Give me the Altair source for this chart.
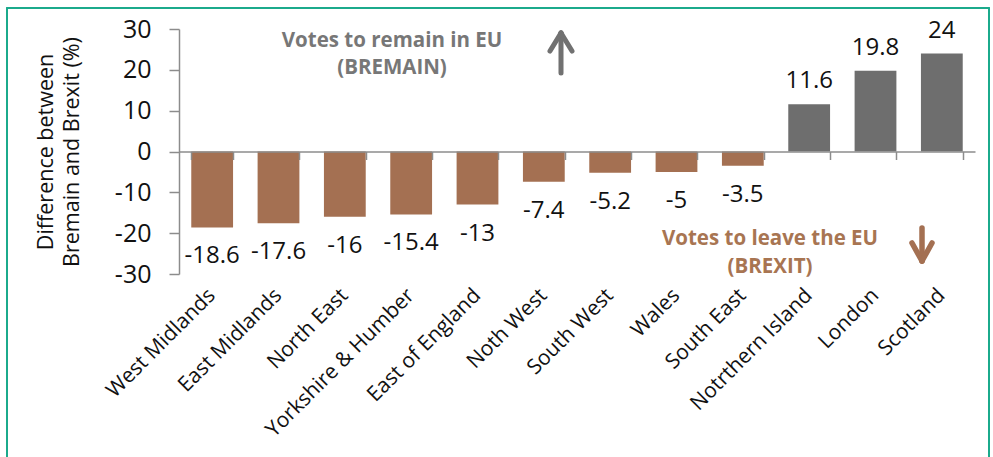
import altair as alt
import pandas as pd

regions = ["West Midlands", "East Midlands", "North East", "Yorkshire  & Humber",
           "East of England", "Noth West", "South West", "Wales", "South East",
           "Notrthern Island", "London", "Scotland"]
values = [-18.6, -17.6, -16, -15.4, -13, -7.4, -5.2, -5, -3.5, 11.6, 19.8, 24]
y_ticks = [-30, -20, -10, 0, 10, 20, 30]

BROWN = "#A47052"
GRAY = "#6E6E6E"
AXIS_GRAY = "#8C8C8C"
GREEN = "#1BAA8C"
FONT = "Open Sans"

df = pd.DataFrame({"region": regions, "value": values})
df["label"] = [f"{v:g}" for v in values]
df["side"] = ["remain" if v > 0 else "leave" for v in values]

W, H = 796, 245
one = pd.DataFrame({"a": [0]})

xscale = alt.Scale(paddingInner=0.37, paddingOuter=0.185)
yenc = alt.Y("value:Q",
             scale=alt.Scale(domain=[-30, 30], nice=False, zero=False),
             axis=alt.Axis(values=y_ticks, grid=False, domainColor=AXIS_GRAY, domainWidth=1.5,
                           tickColor=AXIS_GRAY, tickWidth=1.5, tickSize=10, labelPadding=18,
                           labelFontSize=25, labelColor="#111111", labelFont=FONT,
                           labelExpr="datum.value + ''",
                           title=["Difference between", "Bremain and Brexit (%)"],
                           titleFont=FONT, titleFontSize=21.5, titleFontWeight="normal",
                           titleColor="#111111", titleLineHeight=26, titlePadding=31))

bars = alt.Chart(df).mark_bar().encode(
    x=alt.X("region:N", sort=None, scale=xscale,
            axis=alt.Axis(orient="bottom", domain=False, ticks=False, labelAngle=-45,
                          labelAlign="right", labelBaseline="middle", labelPadding=18,
                          labelFontSize=21, labelFont=FONT, labelColor="#111111",
                          labelLimit=0, title=None)),
    y=yenc,
    color=alt.Color("side:N", scale=alt.Scale(domain=["leave", "remain"], range=[BROWN, GRAY]),
                    legend=None),
)

pos_labels = alt.Chart(df).transform_filter("datum.value > 0").mark_text(
    baseline="alphabetic", dy=-16, fontSize=24, font=FONT, color="#111111"
).encode(x=alt.X("region:N", sort=None, scale=xscale), y=yenc, text="label:N")

neg_labels = alt.Chart(df).transform_filter("datum.value < 0").mark_text(
    baseline="alphabetic", dy=36, fontSize=24, font=FONT, color="#111111"
).encode(x=alt.X("region:N", sort=None, scale=xscale), y=yenc, text="label:N")

main = alt.layer(bars, pos_labels, neg_labels)

zero_axis = alt.Chart(df).mark_bar(opacity=0).encode(
    x=alt.X("region:N", sort=None, scale=xscale,
            axis=alt.Axis(orient="bottom", offset=-H / 2, labels=False, domain=True,
                          domainColor=AXIS_GRAY, domainWidth=1.5, ticks=True,
                          tickColor=AXIS_GRAY, tickWidth=1.5, tickSize=8,
                          tickBand="extent", title=None, zindex=1)),
    y=yenc,
)

def txt(s, x, y, color, size=20.5):
    return alt.Chart(one).mark_text(text=s, font=FONT, fontSize=size, fontWeight="bold",
                                    color=color, align="center", baseline="middle").encode(
        x=alt.value(x), y=alt.value(y))

def seg(x1, y1, x2, y2, color, w=5):
    return alt.Chart(one).mark_rule(color=color, strokeWidth=w, strokeCap="round").encode(
        x=alt.value(x1), y=alt.value(y1), x2=alt.value(x2), y2=alt.value(y2))

annots = [
    txt("Votes to remain in EU", 213, 12, "#777777"),
    txt("(BREMAIN)", 213, 39, "#777777"),
    txt("Votes to leave the EU", 591, 210, "#A87552"),
    txt("(BREXIT)", 591, 238, "#A87552"),
    # up arrow
    seg(382, 4, 382, 44, "#717171"),
    seg(382, 4, 371, 22, "#717171"),
    seg(382, 4, 393, 22, "#717171"),
    # down arrow
    seg(743, 199, 743, 232, BROWN, 5.5),
    seg(743, 232, 733, 214, BROWN, 5.5),
    seg(743, 232, 753, 214, BROWN, 5.5),
    # frame
    seg(-172, -21, 810, -21, GREEN, 2),
    seg(-172, -21, -172, 440, GREEN, 2),
    seg(810, -21, 810, 440, GREEN, 2),
]

chart = alt.layer(main, zero_axis, *annots).resolve_scale(x="independent").properties(
    width=W, height=H,
    autosize=alt.AutoSizeParams(type="none"),
    padding={"left": 179, "top": 29, "right": 18, "bottom": 183},
    background="white",
).configure_view(stroke=None)

chart.save("out.html", embed_options={"renderer": "svg", "actions": False})
